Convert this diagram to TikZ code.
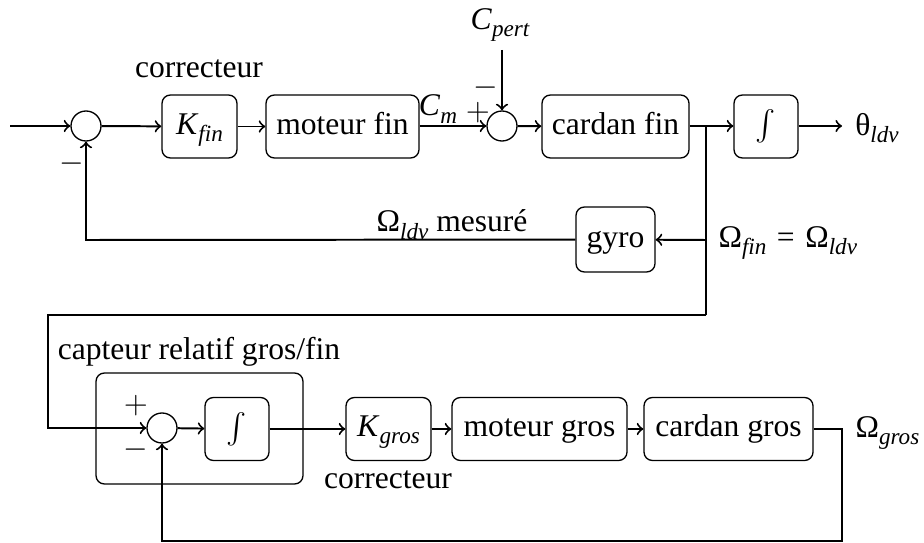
\documentclass[tikz,border=0pt]{standalone}
\usepackage{fontspec}
\setmainfont{Liberation Serif}
\newcommand{\sbs}[1]{\raisebox{-0.5ex}{\fontsize{8.8}{9}\selectfont\itshape #1}}
\begin{document}
\begin{tikzpicture}[x=0.38pt,y=-0.38pt,
  font=\fontsize{12}{14}\selectfont,
  blk/.style={draw, line width=0.5pt, rounded corners=3.2pt, minimum height=63*0.38pt, inner sep=0pt, text height=8.4pt, text depth=2.6pt},
  intb/.style={draw, line width=0.5pt, rounded corners=3.2pt, minimum height=63*0.38pt, minimum width=64*0.38pt, inner sep=0pt},
  sumc/.style={draw, line width=0.5pt, circle, minimum size=30*0.38pt, inner sep=0pt},
  lnk/.style={line width=0.75pt},
  arr/.style={lnk, ->},
  lbl/.style={inner sep=0pt}]
\useasboundingbox (0,0) rectangle (924,543);
% top row
\coordinate (in) at (10,126);
\node[sumc] (c1) at (86,126) {};
\node[blk, minimum width=75*0.38pt] (kfin) at (199.5,126.5) {\textit{K}\sbs{fin}};
\node[blk, minimum width=153*0.38pt] (mfin) at (342.5,126.5) {moteur fin};
\node[sumc] (c2) at (502,126) {};
\node[blk, minimum width=147*0.38pt] (cfin) at (615.5,126.5) {cardan fin};
\node[intb] (int1) at (766,126.5) {\scalebox{1.15}{$\int$}};
\coordinate (b1) at (706,126);
\coordinate (out1) at (842,126);
\coordinate (cp) at (502,50);
\node[blk, minimum width=79*0.38pt, minimum height=65*0.38pt] (gyro) at (615.5,239.5) {gyro};
\coordinate (b2) at (706,240);
\coordinate (f1) at (86,240);
% bottom row
\coordinate (t1) at (706,315);
\coordinate (t2) at (48,315);
\coordinate (t3) at (48,428);
\node[draw, line width=0.5pt, rounded corners=3.2pt, minimum width=207*0.38pt, minimum height=111*0.38pt] (cap) at (199.5,428.5) {};
\node[sumc] (c3) at (162,428) {};
\node[intb] (int2) at (237,429) {\scalebox{1.15}{$\int$}};
\node[blk, minimum width=85*0.38pt] (kgros) at (388.5,429) {\textit{K}\sbs{gros}};
\node[blk, minimum width=175*0.38pt] (mgros) at (539.5,429) {moteur gros};
\node[blk, minimum width=169*0.38pt] (cgros) at (728.5,429) {cardan gros};
\coordinate (g1) at (842,429);
\coordinate (g2) at (842,541);
\coordinate (g3) at (162,541);
% connectors
\draw[arr] (in) -- (c1);
\draw[arr] (c1) -- (kfin);
\draw[arr] (kfin) -- (mfin);
\draw[arr] (mfin.east |- c2) -- (c2);
\draw[arr] (c2) -- (cfin);
\draw[lnk] (cfin.east |- b1) -- (b1);
\draw[arr] (b1) -- (int1.west |- b1);
\draw[arr] (int1.east |- out1) -- (out1);
\draw[arr] (cp) -- (c2);
\draw[lnk] (b1) -- (t1);
\draw[arr] (b2) -- (gyro);
\draw[arr] (gyro) -- (f1) -- (c1);
\draw[arr] (t1) -- (t2) -- (t3) -- (c3);
\draw[arr] (c3) -- (int2);
\draw[arr] (int2) -- (kgros);
\draw[arr] (kgros) -- (mgros);
\draw[arr] (mgros) -- (cgros);
\draw[arr] (cgros.east |- g1) -- (g1) -- (g2) -- (g3) -- (c3);
% labels
\node[lbl] (l1) at (199,69) {correcteur};
\node[lbl] (l2) at (438,109) {\textit{C}\sbs{m}};
\node[lbl] (l3) at (478,113) {$+$};
\node[lbl] (l4) at (486,88) {$-$};
\node[lbl] (l5) at (72,164) {$-$};
\node[lbl] (l6) at (500,25) {\textit{C}\sbs{pert}};
\node[lbl] (l7) at (877,128) {θ\sbs{ldv}};
\node[lbl, anchor=base east] (l8) at (528,232) {Ω\sbs{ldv} mesuré};
\node[lbl, anchor=base west] (l9) at (718,247) {Ω\sbs{fin}\hspace{4pt}=\hspace{4pt}Ω\sbs{ldv}};
\node[lbl] (l10) at (199,352) {capteur relatif gros/fin};
\node[lbl] (l11) at (136,406) {$+$};
\node[lbl] (l12) at (136,450) {$-$};
\node[lbl] (l13) at (388,480) {correcteur};
\node[lbl, anchor=base west] (l14) at (855,437) {Ω\sbs{gros}};
\end{tikzpicture}
\end{document}
